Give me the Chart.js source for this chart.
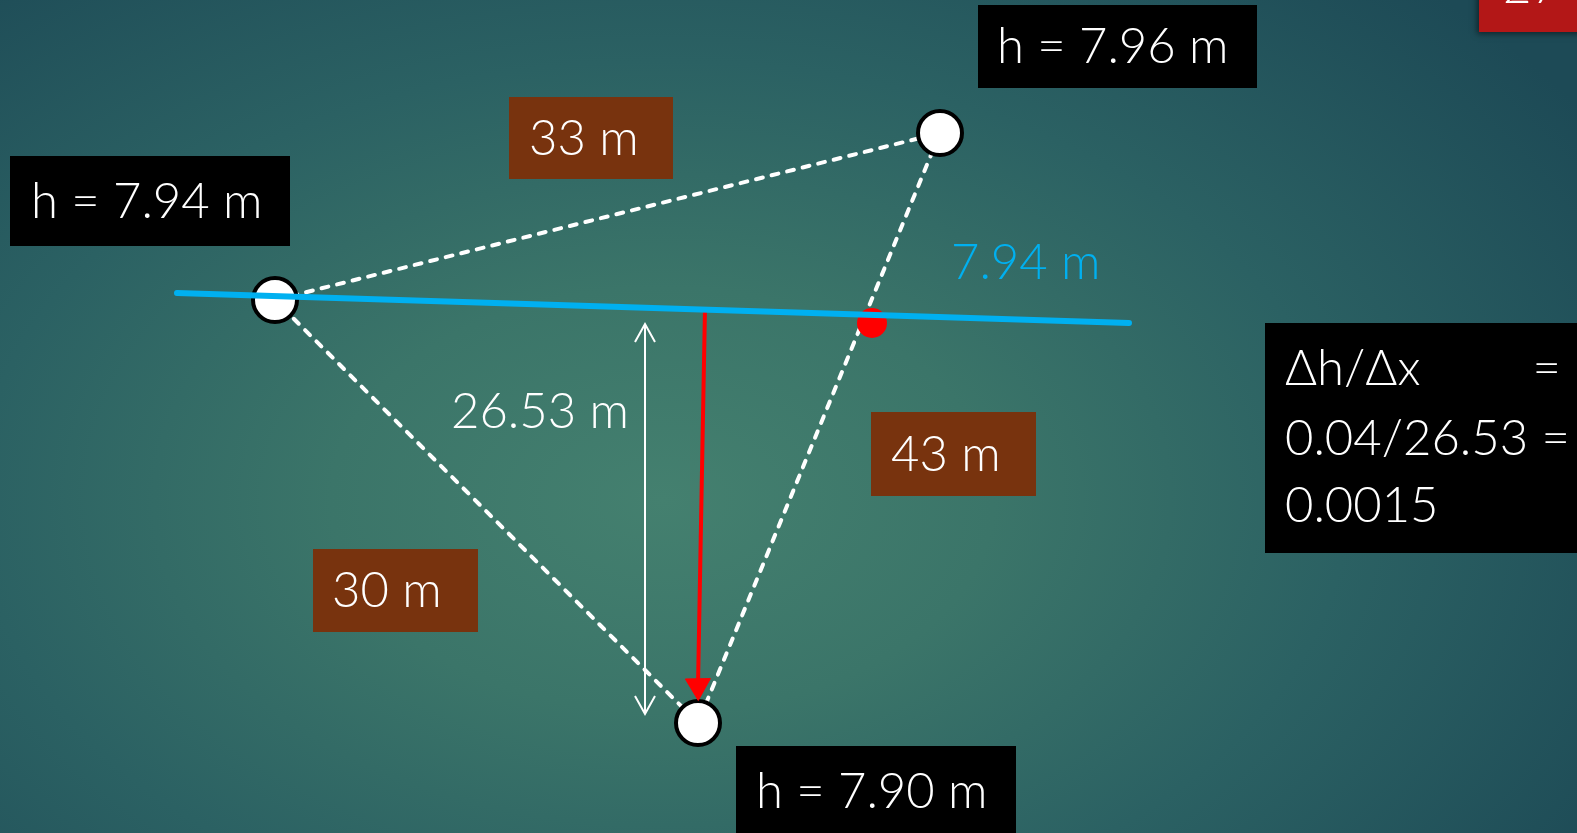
<!DOCTYPE html>
<html>
<head>
<meta charset="utf-8">
<script src="https://cdn.jsdelivr.net/npm/chart.js@4.4.0/dist/chart.umd.min.js"></script>
<style>
  html, body { margin: 0; padding: 0; overflow: hidden; }
  body {
    width: 1577px; height: 833px;
    background: radial-gradient(ellipse 70% 85% at 42% 60%, #44806f 0%, #3b7569 30%, #2b6163 62%, #1d4a56 100%);
  }
  canvas { display: block; }
</style>
</head>
<body>
<canvas id="wells" width="1577" height="833"></canvas>
<script>
// well positions (plan view, same units as the slide) and measured heads
const wellX = [275, 940, 698];
const wellY = [300, 133, 723];
const heads = [7.94, 7.96, 7.90];
// distances between wells: W1-W2, W2-W3, W3-W1
const sideLabels = ['33 m', '43 m', '30 m'];

// 7.94 m contour and the point where it cuts W2-W3
const contourHead = 7.94;
const contourX = [177, 1129];
const contourY = [293, 323];
const crossX = [872];
const crossY = [323];

// flow direction (red arrow) and perpendicular distance (white arrow)
const flowX = [705, 698];
const flowY = [308, 686];
const distX = [645, 645];
const distY = [324, 714];
const distance = 26.53;

const dh = heads[0] - heads[2];
const slope = dh / distance;
const slopeLines = ['\u0394h/\u0394x', dh.toFixed(2) + '/' + distance.toFixed(2) + ' =', slope.toFixed(4)];

const FONT = '300 49px Lato, "Noto Sans", sans-serif';

// box layout for the labels
const headBoxes = [
  { x: 10, y: 156, w: 280, h: 90, tx: 31 },
  { x: 978, y: 5, w: 279, h: 83, tx: 997 },
  { x: 736, y: 746, w: 280, h: 90, tx: 756 }
];
const sideBoxes = [
  { x: 509, y: 97, w: 164, h: 82, tx: 529 },
  { x: 871, y: 412, w: 165, h: 84, tx: 891 },
  { x: 313, y: 549, w: 165, h: 83, tx: 332 }
];
const slopeBox = { x: 1265, y: 323, w: 320, h: 230, tx: 1285, right: 1561, lineY: [369, 439, 506] };

const pts = (xs, ys) => xs.map((x, i) => ({ x: x, y: ys[i] }));

const labelsPlugin = {
  id: 'labels',
  afterDraw(chart) {
    const ctx = chart.ctx;
    const sx = v => chart.scales.x.getPixelForValue(v);
    const sy = v => chart.scales.y.getPixelForValue(v);

    // chevrons on the distance arrow
    const dm = chart.getDatasetMeta(5).data;
    ctx.save();
    ctx.strokeStyle = '#ffffff';
    ctx.lineWidth = 2;
    [[dm[0], 1], [dm[1], -1]].forEach(([p, d]) => {
      ctx.beginPath();
      ctx.moveTo(p.x - 10, p.y + d * 18);
      ctx.lineTo(p.x, p.y);
      ctx.lineTo(p.x + 10, p.y + d * 18);
      ctx.stroke();
    });

    ctx.font = FONT;
    ctx.textBaseline = 'middle';
    ctx.textAlign = 'left';

    const box = (b, fill, text) => {
      ctx.fillStyle = fill;
      ctx.fillRect(sx(b.x), sy(b.y), b.w, b.h);
      ctx.fillStyle = '#ffffff';
      ctx.fillText(text, sx(b.tx), sy(b.y) + b.h / 2 + 1);
    };
    heads.forEach((h, i) => box(headBoxes[i], '#000000', 'h = ' + h.toFixed(2) + ' m'));
    sideLabels.forEach((s, i) => box(sideBoxes[i], '#78330e', s));

    // contour label and distance label
    ctx.fillStyle = '#00b0f0';
    ctx.fillText(contourHead.toFixed(2) + ' m', sx(951), sy(263));
    ctx.fillStyle = '#ffffff';
    ctx.fillText(distance.toFixed(2) + ' m', sx(451), sy(412));

    // gradient box
    ctx.fillStyle = '#000000';
    ctx.fillRect(sx(slopeBox.x), sy(slopeBox.y), slopeBox.w, slopeBox.h);
    ctx.fillStyle = '#ffffff';
    slopeLines.forEach((t, i) => ctx.fillText(t, sx(slopeBox.tx), sy(slopeBox.lineY[i])));
    ctx.textAlign = 'right';
    ctx.fillText('=', sx(slopeBox.right), sy(slopeBox.lineY[0]));

    // slide number tab, top right
    ctx.shadowColor = 'rgba(0,0,0,0.5)';
    ctx.shadowBlur = 6;
    ctx.shadowOffsetX = -2;
    ctx.shadowOffsetY = 2;
    ctx.fillStyle = '#b31717';
    ctx.fillRect(1479, -10, 110, 42);
    ctx.shadowColor = 'transparent';
    ctx.fillStyle = '#ffffff';
    ctx.textAlign = 'left';
    ctx.textBaseline = 'alphabetic';
    ctx.fillText('27', 1503, 3);
    ctx.restore();
  }
};

const ctx = document.getElementById('wells');
const chart = new Chart(ctx, {
  type: 'scatter',
  data: {
    datasets: [
      {
        // 7.94 m contour
        data: pts(contourX, contourY),
        showLine: true,
        borderColor: '#00b0f0',
        borderWidth: 6,
        pointRadius: 0,
        borderCapStyle: 'round',
        order: 0
      },
      {
        // flow direction
        data: pts(flowX, flowY),
        showLine: true,
        borderColor: '#ff0000',
        borderWidth: 4,
        pointStyle: 'triangle',
        pointRadius: [0, 14.5],
        pointRotation: 179,
        backgroundColor: '#ff0000',
        pointBorderColor: '#ff0000',
        pointBorderWidth: 1,
        order: 1
      },
      {
        // wells
        data: pts(wellX, wellY),
        pointRadius: 22,
        backgroundColor: '#ffffff',
        pointBorderColor: '#000000',
        pointBorderWidth: 4,
        order: 2
      },
      {
        // contour crossing on W2-W3
        data: pts(crossX, crossY),
        pointRadius: 15,
        backgroundColor: '#ff0000',
        pointBorderWidth: 0,
        order: 3
      },
      {
        // triangle between the wells
        data: pts(wellX.concat(wellX[0]), wellY.concat(wellY[0])),
        showLine: true,
        borderColor: '#ffffff',
        borderWidth: 4,
        borderDash: [7, 9],
        borderCapStyle: 'round',
        pointRadius: 0,
        order: 4
      },
      {
        // perpendicular distance
        data: pts(distX, distY),
        showLine: true,
        borderColor: '#ffffff',
        borderWidth: 2,
        pointRadius: 0,
        order: 5
      }
    ]
  },
  options: {
    responsive: false,
    animation: false,
    layout: { padding: 0, autoPadding: false },
    elements: { line: { tension: 0 } },
    scales: {
      x: { type: 'linear', min: 0, max: 1577, display: false },
      y: { type: 'linear', min: 0, max: 833, reverse: true, display: false }
    },
    plugins: {
      legend: { display: false },
      tooltip: { enabled: false }
    },
    events: []
  },
  plugins: [labelsPlugin]
});
</script>
</body>
</html>
